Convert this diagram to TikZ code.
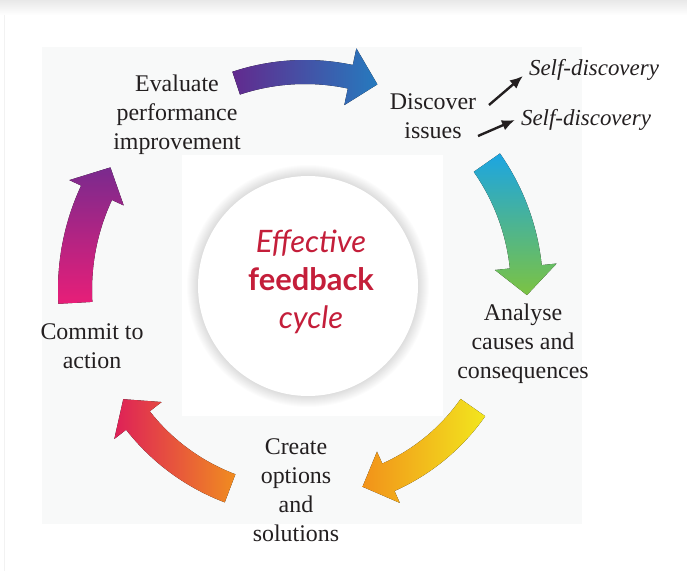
\documentclass[tikz,border=0pt]{standalone}
\usepackage{fontspec}
\setmainfont{Liberation Serif}
\newfontfamily\hubfont{Lato}
\usepackage{tikz}
\usetikzlibrary{arrows.meta,calc}
\definecolor{panelgray}{RGB}{248,249,249}
\definecolor{inkblack}{RGB}{35,31,32}
\definecolor{hubred}{RGB}{196,30,58}
\definecolor{evpurple}{RGB}{98,42,142}
\definecolor{evblue}{RGB}{38,122,190}
\definecolor{dicyan}{RGB}{28,165,226}
\definecolor{digreen}{RGB}{124,195,66}
\definecolor{anyellow}{RGB}{242,230,30}
\definecolor{anorange}{RGB}{242,146,26}
\definecolor{crorange}{RGB}{240,140,32}
\definecolor{crred}{RGB}{222,32,88}
\definecolor{copink}{RGB}{232,30,120}
\definecolor{copurple}{RGB}{122,42,142}
\tikzset{
  stage/.style={font=\fontsize{24}{29}\selectfont, align=center, text=inkblack, inner sep=2bp},
  selfnote/.style={font=\fontsize{23}{28}\selectfont\itshape, text=inkblack, inner sep=1bp},
  pointer/.style={-{Latex[length=13bp,width=11bp]}, line width=2.4bp, inkblack},
  hubtext/.style={font=\hubfont\fontsize{31}{38}\selectfont, align=center, text=hubred},
}
% bent arrow round the hub: start, head base, tip, radius, half width, head half width, style
\newcommand{\cyclearrow}[7]{%
  \fill[#7] (#1:{#4+#5}) arc[start angle=#1, end angle=#2, radius={#4+#5}]
    -- (#2:{#4+#6}) -- (#3:#4) -- (#2:{#4-#6}) -- (#2:{#4-#5})
    arc[start angle=#2, end angle=#1, radius={#4-#5}] -- cycle;
}

\begin{document}
\begin{tikzpicture}[x=1bp, y=1bp]
  \useasboundingbox (0,0) rectangle (687,571);
  \fill[white] (0,0) rectangle (687,571);
  \shade[top color=black!9, bottom color=white] (0,556) rectangle (687,571);
  \draw[black!5] (4,0) -- (4,556);

  % panels
  \fill[panelgray] (42,47) rectangle (582,524);
  \fill[white] (182,155) rectangle (443,416);

  % hub with soft shadow
  \coordinate (hubc) at (308,285);
  \foreach \k in {1,...,12}
    \fill[black, opacity=0.01] (hubc) circle ({109+\k});
  \fill[white] (hubc) circle (110);
  \node[hubtext] (hub) at (311,289)
    {{\itshape Effective}\\{\bfseries feedback}\\{\itshape cycle}};

  % the five bent arrows
  \begin{scope}[shift={(305,281)}]
    \cyclearrow{108.4}{78}{70.6}{218}{12}{29}{left color=evpurple, right color=evblue}
    \cyclearrow{35}{6}{-1.3}{222}{16}{31}{top color=dicyan, bottom color=digreen}
    \cyclearrow{-35}{-66}{-73.7}{205}{15}{28}{left color=anorange, right color=anyellow}
    \cyclearrow{249.3}{218}{211}{212}{15}{30}{left color=crred, right color=crorange}
    \cyclearrow{183.2}{155}{147.8}{230}{17}{30}{bottom color=copink, top color=copurple}
  \end{scope}

  % stages
  \node[stage] (evaluate) at (177,456) {Evaluate\\performance\\improvement};
  \node[stage] (discover) at (433,455) {Discover\\issues};
  \node[stage] (analyse) at (523,227) {Analyse\\causes and\\consequences};
  \node[stage] (create) at (296,81) {Create\\options\\and\\solutions};
  \node[stage] (commit) at (92,225) {Commit to\\action};

  % self-discovery notes
  \node[selfnote] (sd1) at (594,501) {Self-discovery};
  \node[selfnote] (sd2) at (586,451) {Self-discovery};
  \coordinate (d1) at (489,466);
  \coordinate (d2) at (478,435);
  \draw[pointer] (d1) -- ([xshift=-5bp,yshift=-6bp]sd1.west);
  \draw[pointer] (d2) -- ([xshift=-5bp]sd2.west);
\end{tikzpicture}
\end{document}
